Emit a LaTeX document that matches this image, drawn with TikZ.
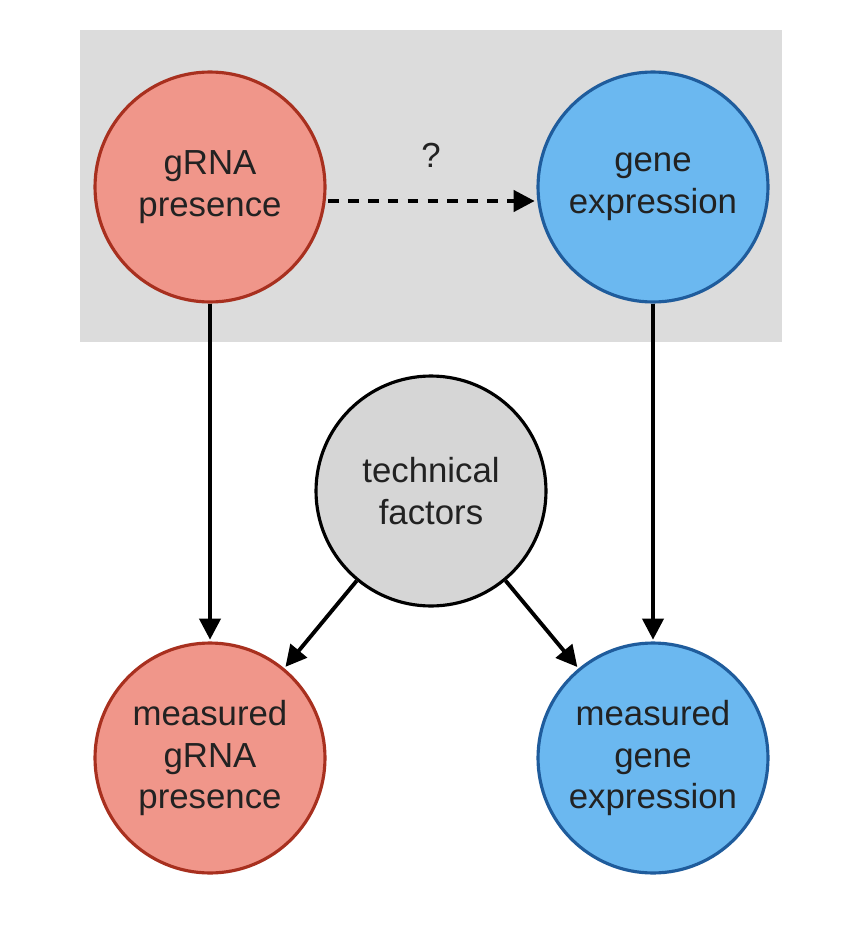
\documentclass[tikz,border=0pt]{standalone}
\usepackage{fontspec}
\setmainfont{Liberation Sans}
\usetikzlibrary{arrows.meta}
\definecolor{bgbox}{HTML}{DCDCDC}
\definecolor{redfill}{HTML}{F0968A}
\definecolor{redline}{HTML}{A8301F}
\definecolor{bluefill}{HTML}{6BB8F0}
\definecolor{blueline}{HTML}{1F5C9C}
\definecolor{grayfill}{HTML}{D6D6D6}
\definecolor{txt}{HTML}{222222}
\tikzset{
  vnode/.style={circle, minimum size=4.6cm, inner sep=0pt, line width=1.8pt, align=center,
    text=txt, font=\fontsize{19.8}{23.8}\selectfont},
  rednode/.style={vnode, fill=redfill, draw=redline},
  bluenode/.style={vnode, fill=bluefill, draw=blueline},
  graynode/.style={vnode, fill=grayfill, draw=black},
  arr/.style={line width=2.2pt, -{Triangle[length=12pt, width=12pt]}, shorten >=1pt},
}
\begin{document}
\begin{tikzpicture}[x=0.02cm, y=-0.02cm]
\useasboundingbox (0,0) rectangle (842,926);
\fill[white] (0,0) rectangle (842,926);
\fill[bgbox] (80,30) rectangle (782,342);
\node[rednode] (g) at (210,187) {gRNA\\presence};
\node[bluenode] (e) at (653,187) {gene\\expression};
\node[graynode] (t) at (431,491) {technical\\factors};
\node[rednode] (mg) at (210,758) {measured\\gRNA\\presence};
\node[bluenode] (me) at (653,758) {measured\\gene\\expression};
\coordinate (yline) at (0,201);
\coordinate (ds) at (g.east |- yline);
\coordinate (de) at (e.west |- yline);
\draw[arr, line width=2.4pt, dash pattern=on 6pt off 5.3pt] ([xshift=1pt]ds) -- (de);
\node[text=txt, font=\fontsize{19.8}{23.8}\selectfont] (q) at (431,155) {?};
\draw[arr] (g) -- (mg);
\draw[arr] (e) -- (me);
\draw[arr] (t) -- (mg);
\draw[arr] (t) -- (me);
\end{tikzpicture}
\end{document}
